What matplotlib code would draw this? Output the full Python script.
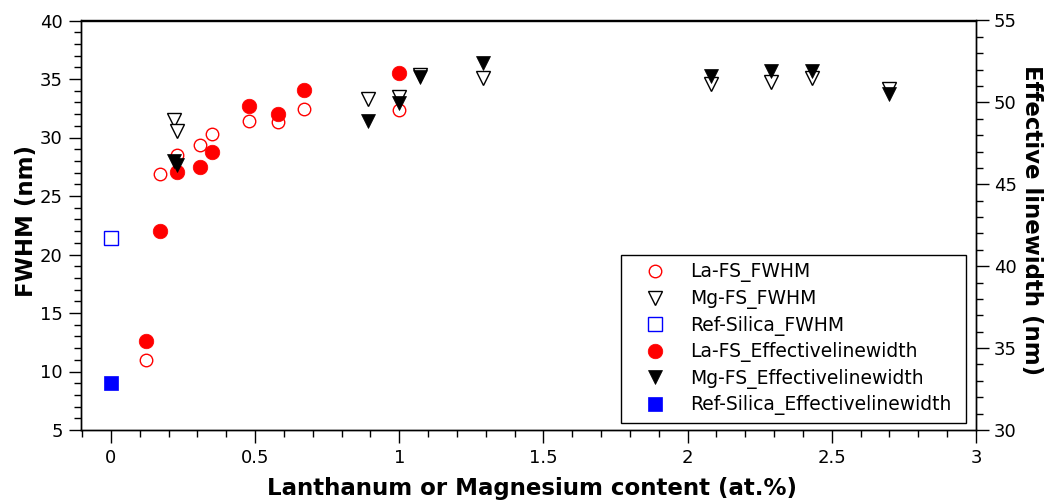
import matplotlib
matplotlib.use("Agg")
import matplotlib.pyplot as plt
from matplotlib.ticker import MultipleLocator

plt.rcParams['font.family'] = ['DejaVu Sans']

# La-doped fused silica
la_content = [0.12, 0.17, 0.23, 0.31, 0.35, 0.48, 0.58, 0.67, 1.00]
la_fwhm = [11.0, 26.9, 28.5, 29.35, 30.3, 31.4, 31.3, 32.4, 32.35]
la_eff = [35.46, 42.17, 45.76, 46.08, 46.98, 49.8, 49.29, 50.76, 51.82]

# Mg-doped fused silica
mg_content = [0.22, 0.23, 0.89, 1.00, 1.07, 1.29, 2.08, 2.29, 2.43, 2.70]
mg_fwhm = [31.52, 30.55, 33.29, 33.46, 35.35, 35.09, 34.6, 34.75, 35.09, 34.17]
mg_eff = [46.45, 46.2, 48.88, 49.94, 51.53, 52.39, 51.59, 51.94, 51.94, 50.49]

# Reference silica
ref_content = [0.0]
ref_fwhm = [21.38]
ref_eff = [32.86]

x_ticks = [0, 0.5, 1, 1.5, 2, 2.5, 3]
x_tick_labels = ["0", "0.5", "1", "1.5", "2", "2.5", "3"]

W, H = 1049, 500
fig = plt.figure(figsize=(W / 100, H / 100), dpi=100)
ax1 = fig.add_axes([80.7 / W, 1 - 430 / H, (976 - 80.7) / W, (430 - 20.5) / H])
ax2 = ax1.twinx()

red, blue, black = '#ff0000', '#0000ff', '#000000'

h1, = ax1.plot(la_content, la_fwhm, ls='none', marker='o', ms=9, mfc='white',
               mec=red, mew=1.0, label='La-FS_FWHM')
h2, = ax1.plot(mg_content, mg_fwhm, ls='none', marker='v', ms=9.5, mfc='white',
               mec=black, mew=1.0, label='Mg-FS_FWHM')
h3, = ax1.plot(ref_content, ref_fwhm, ls='none', marker='s', ms=10.5, mfc='white',
               mec=blue, mew=1.0, label='Ref-Silica_FWHM')
h4, = ax2.plot(la_content, la_eff, ls='none', marker='o', ms=10.5, mfc=red,
               mec=red, mew=0.5, label='La-FS_Effectivelinewidth')
h5, = ax2.plot(mg_content, mg_eff, ls='none', marker='v', ms=10.5, mfc=black,
               mec=black, mew=0.5, label='Mg-FS_Effectivelinewidth')
h6, = ax2.plot(ref_content, ref_eff, ls='none', marker='s', ms=10.5, mfc=blue,
               mec=blue, mew=0.5, label='Ref-Silica_Effectivelinewidth')

ax1.set_xlim(-0.105, 3.0)
ax1.set_ylim(5, 40)
ax2.set_ylim(30, 55)

ax1.set_xticks(x_ticks)
ax1.set_xticklabels(x_tick_labels)
ax1.xaxis.set_minor_locator(MultipleLocator(0.1))
ax1.yaxis.set_major_locator(MultipleLocator(5))
ax1.yaxis.set_minor_locator(MultipleLocator(1))
ax2.yaxis.set_major_locator(MultipleLocator(5))
ax2.yaxis.set_minor_locator(MultipleLocator(1))

for ax in (ax1, ax2):
    ax.tick_params(which='major', direction='out', length=9, width=1.0,
                   labelsize=13, pad=4)
    ax.tick_params(which='minor', direction='out', length=5, width=1.0)
    for sp in ax.spines.values():
        sp.set_linewidth(1.0)
ax1.tick_params(axis='x', which='major', pad=5)

fig.text(532 / W, 1 - 495 / H, 'Lanthanum or Magnesium content (at.%)',
         fontsize=16.5, fontweight='bold', ha='center', va='baseline')
fig.text(33 / W, 1 - 221 / H, 'FWHM (nm)', fontsize=16.5, fontweight='bold',
         rotation=90, rotation_mode='anchor', ha='center', va='baseline')
fig.text(1025 / W, 1 - 220.5 / H, 'Effective linewidth (nm)', fontsize=16.5,
         fontweight='bold', rotation=-90, rotation_mode='anchor',
         ha='center', va='baseline')

leg = ax2.legend(handles=[h1, h2, h3, h4, h5, h6], loc='upper left',
                 bbox_to_anchor=(620.7 / W, 1 - 421 / H,
                                 (966 - 620.7) / W, (421 - 255) / H),
                 bbox_transform=fig.transFigure, borderaxespad=0, mode='expand',
                 fontsize=13.5, borderpad=0.4, handlelength=2.9,
                 handletextpad=0.4, labelspacing=0.35, fancybox=False,
                 framealpha=1, edgecolor='black')
leg.get_frame().set_linewidth(1.0)

fig.savefig('out.png', dpi=100)
